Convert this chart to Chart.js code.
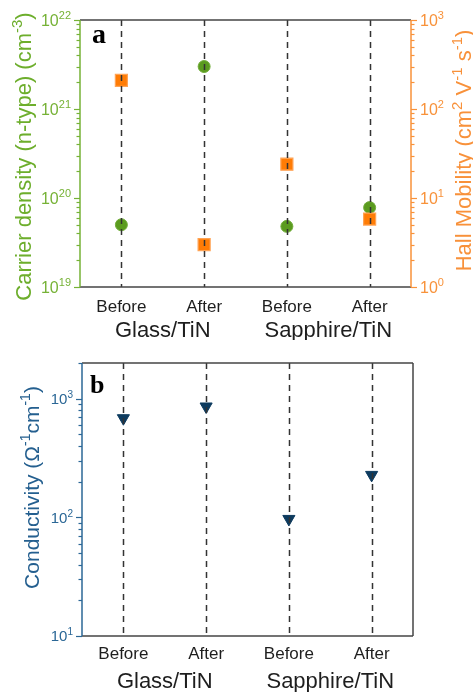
<!DOCTYPE html>
<html>
<head>
<meta charset="utf-8">
<script src="https://cdn.jsdelivr.net/npm/chart.js@4.4.1/dist/chart.umd.min.js"></script>
<style>
html, body { margin: 0; padding: 0; background: #fff; }
#wrap { position: relative; width: 473px; height: 692px; }
canvas { position: absolute; left: 0; display: block; }
#top { top: 0; }
#bottom { top: 340px; }
</style>
</head>
<body>
<div id="wrap">
  <canvas id="top" width="473" height="340"></canvas>
  <canvas id="bottom" width="473" height="352"></canvas>
</div>
<script>
// ---- data ----
const stages = ['Before', 'After', 'Before', 'After'];
const groups = ['Glass/TiN', 'Sapphire/TiN'];
const carrierDensity = [5.0e19, 3.0e21, 4.8e19, 7.8e19];   // cm^-3
const hallMobility = [210, 3.0, 24, 5.8];                  // cm^2 V^-1 s^-1
const conductivity = [685, 860, 97, 228];                  // ohm^-1 cm^-1

const carrierTicks = [1e19, 1e20, 1e21, 1e22];
const carrierTickLabels = ['10^{19}', '10^{20}', '10^{21}', '10^{22}'];
const mobilityTicks = [1, 10, 100, 1000];
const mobilityTickLabels = ['10^{0}', '10^{1}', '10^{2}', '10^{3}'];
const condTicks = [10, 100, 1000];
const condTickLabels = ['10^{1}', '10^{2}', '10^{3}'];
const condMax = 2000;

const GREEN = '#76b236', ORANGE = '#f8923a', BLUE = '#2b6796', FRAME = '#444444';
const FONT = '"Liberation Sans", Arial, sans-serif';

// decade ticks plus the 2..9 steps inside each decade
function logTicks(majors, max) {
  const out = [];
  majors.forEach(m => {
    out.push({ value: m });
    for (let k = 2; k <= 9; k++) {
      if (m * k <= max * 1.0001) out.push({ value: m * k });
    }
  });
  return out;
}

// 'cm^{-3}' -> plain and superscript runs
function parseRich(str) {
  const parts = [];
  const re = /\^\{([^}]*)\}/g;
  let last = 0, m;
  while ((m = re.exec(str))) {
    if (m.index > last) parts.push({ t: str.slice(last, m.index), sup: false });
    parts.push({ t: m[1], sup: true });
    last = re.lastIndex;
  }
  if (last < str.length) parts.push({ t: str.slice(last), sup: false });
  return parts;
}

// draws text with superscripts; y is the visual middle of the capitals
function drawRich(ctx, str, x, y, size, align) {
  const parts = parseRich(str);
  const supSize = Math.round(size * 0.66);
  const widths = parts.map(p => {
    ctx.font = (p.sup ? supSize : size) + 'px ' + FONT;
    return ctx.measureText(p.t).width;
  });
  const total = widths.reduce((s, w) => s + w, 0);
  let cx = align === 'center' ? x - total / 2 : align === 'right' ? x - total : x;
  const base = y + size * 0.36;
  ctx.textAlign = 'left';
  ctx.textBaseline = 'alphabetic';
  parts.forEach((p, i) => {
    ctx.font = (p.sup ? supSize : size) + 'px ' + FONT;
    ctx.fillText(p.t, cx, p.sup ? base - size * 0.4 : base);
    cx += widths[i];
  });
}

function logAxis(position, majors, labels, max, color, width, size) {
  return {
    type: 'logarithmic',
    position: position,
    min: majors[0],
    max: max,
    afterBuildTicks: s => { s.ticks = logTicks(majors, max); },
    afterFit: s => { s.width = width; },
    grid: { display: false },
    border: { display: false },
    ticks: { autoSkip: false, callback: () => '' },
    // tick text is drawn by panelDecor so the exponents can be raised
    decor: { majors: majors, labels: labels, color: color, size: size }
  };
}

function stageAxis(height, pad) {
  return {
    type: 'category',
    offset: true,
    afterFit: s => { s.height = height; },
    grid: { display: false },
    border: { display: false },
    ticks: { autoSkip: false, maxRotation: 0, padding: pad, color: '#1e1e1e', font: { family: FONT, size: 17 } }
  };
}

// dashed guides, frame, log tick marks and labels, titles, group names, panel letter
const panelDecor = {
  id: 'panelDecor',
  afterDatasetsDraw(chart, args, o) {
    const { ctx, chartArea: a, scales } = chart;
    const x = scales.x;
    ctx.save();

    ctx.strokeStyle = '#333';
    ctx.lineWidth = 1.5;
    ctx.setLineDash([6, 5]);
    stages.forEach((s, i) => {
      const px = Math.round(x.getPixelForValue(i)) + 0.5;
      ctx.beginPath(); ctx.moveTo(px, a.top); ctx.lineTo(px, a.bottom); ctx.stroke();
    });
    ctx.setLineDash([]);

    const edge = (x1, y1, x2, y2, c) => {
      ctx.strokeStyle = c;
      ctx.beginPath(); ctx.moveTo(x1, y1); ctx.lineTo(x2, y2); ctx.stroke();
    };
    ctx.lineWidth = 1.5;
    edge(a.left, a.top, a.right, a.top, FRAME);
    edge(a.left, a.bottom, a.right, a.bottom, FRAME);
    edge(a.right, a.top, a.right, a.bottom, o.rightColor);
    edge(a.left, a.top, a.left, a.bottom, o.leftColor);

    o.axes.forEach(ax => {
      const sc = scales[ax.id];
      const d = sc.options.decor;
      const left = ax.side === 'left';
      const x0 = left ? a.left : a.right;
      const dir = left ? -1 : 1;
      ctx.strokeStyle = d.color;
      ctx.lineWidth = 1.2;
      sc.ticks.forEach(t => {
        const lg = Math.log10(t.value);
        const len = Math.abs(lg - Math.round(lg)) < 1e-6 ? 6 : 3.5;
        const py = Math.round(sc.getPixelForValue(t.value)) + 0.5;
        ctx.beginPath(); ctx.moveTo(x0, py); ctx.lineTo(x0 + dir * len, py); ctx.stroke();
      });
      ctx.fillStyle = d.color;
      d.majors.forEach((m, i) => {
        drawRich(ctx, d.labels[i], x0 + dir * 9, sc.getPixelForValue(m), d.size, left ? 'right' : 'left');
      });
    });

    o.titles.forEach(t => {
      ctx.save();
      ctx.translate(t.x, (a.top + a.bottom) / 2 + t.dy);
      ctx.rotate(-Math.PI / 2);
      ctx.fillStyle = t.color;
      drawRich(ctx, t.text, 0, 0, t.size, 'center');
      ctx.restore();
    });

    ctx.fillStyle = '#1e1e1e';
    ctx.font = '22px ' + FONT;
    ctx.textAlign = 'center';
    ctx.textBaseline = 'alphabetic';
    groups.forEach((g, i) => {
      const gx = (x.getPixelForValue(2 * i) + x.getPixelForValue(2 * i + 1)) / 2;
      ctx.fillText(g, gx, o.groupY);
    });

    ctx.fillStyle = '#000';
    ctx.font = 'bold ' + o.letterSize + 'px "Liberation Serif", "Times New Roman", serif';
    ctx.textAlign = 'left';
    ctx.fillText(o.letter, a.left + o.letterDx, a.top + o.letterDy);

    ctx.restore();
  }
};

new Chart(document.getElementById('top'), {
  type: 'line',
  data: {
    labels: stages,
    datasets: [
      {
        label: 'Hall Mobility',
        data: hallMobility,
        yAxisID: 'yR',
        showLine: false,
        pointStyle: 'rect',
        pointRadius: 8.5,
        backgroundColor: '#ff7c05',
        borderColor: '#ffa354',
        borderWidth: 1.2,
        order: 0
      },
      {
        label: 'Carrier density',
        data: carrierDensity,
        yAxisID: 'yL',
        showLine: false,
        pointStyle: 'circle',
        pointRadius: 6,
        backgroundColor: '#5b9b1f',
        borderColor: '#72ad3b',
        borderWidth: 1,
        order: 1
      }
    ]
  },
  options: {
    responsive: false,
    animation: false,
    layout: { padding: { top: 20, left: 0, right: 0, bottom: 0 } },
    scales: {
      x: stageAxis(53, 2),
      yL: logAxis('left', carrierTicks, carrierTickLabels, 1e22, GREEN, 80, 16),
      yR: logAxis('right', mobilityTicks, mobilityTickLabels, 1000, ORANGE, 62, 16)
    },
    plugins: {
      legend: { display: false },
      tooltip: { enabled: false },
      panelDecor: {
        leftColor: GREEN,
        rightColor: ORANGE,
        axes: [{ id: 'yL', side: 'left' }, { id: 'yR', side: 'right' }],
        titles: [
          { text: 'Carrier density (n-type) (cm^{-3})', x: 23, dy: 3, size: 22, color: '#6dae2c' },
          { text: 'Hall Mobility (cm^{2} V^{-1} s^{-1})', x: 463, dy: -3, size: 22, color: '#f8913a' }
        ],
        groupY: 337,
        letter: 'a', letterSize: 28, letterDx: 12, letterDy: 23
      }
    }
  },
  plugins: [panelDecor]
});

new Chart(document.getElementById('bottom'), {
  type: 'line',
  data: {
    labels: stages,
    datasets: [
      {
        label: 'Conductivity',
        data: conductivity,
        yAxisID: 'y',
        showLine: false,
        pointStyle: 'triangle',
        pointRotation: 180,
        pointRadius: 7,
        backgroundColor: '#0d3b5f',
        borderColor: '#0d3b5f',
        borderWidth: 1
      }
    ]
  },
  options: {
    responsive: false,
    animation: false,
    layout: { padding: { top: 23, left: 0, right: 60, bottom: 0 } },
    scales: {
      x: stageAxis(56, 0),
      y: logAxis('left', condTicks, condTickLabels, condMax, BLUE, 82, 15)
    },
    plugins: {
      legend: { display: false },
      tooltip: { enabled: false },
      panelDecor: {
        leftColor: BLUE,
        rightColor: FRAME,
        axes: [{ id: 'y', side: 'left' }],
        titles: [
          { text: 'Conductivity (Ω^{-1}cm^{-1})', x: 31, dy: -12, size: 21, color: '#245f8f' }
        ],
        groupY: 348,
        letter: 'b', letterSize: 26, letterDx: 8, letterDy: 30
      }
    }
  },
  plugins: [panelDecor]
});
</script>
</body>
</html>
